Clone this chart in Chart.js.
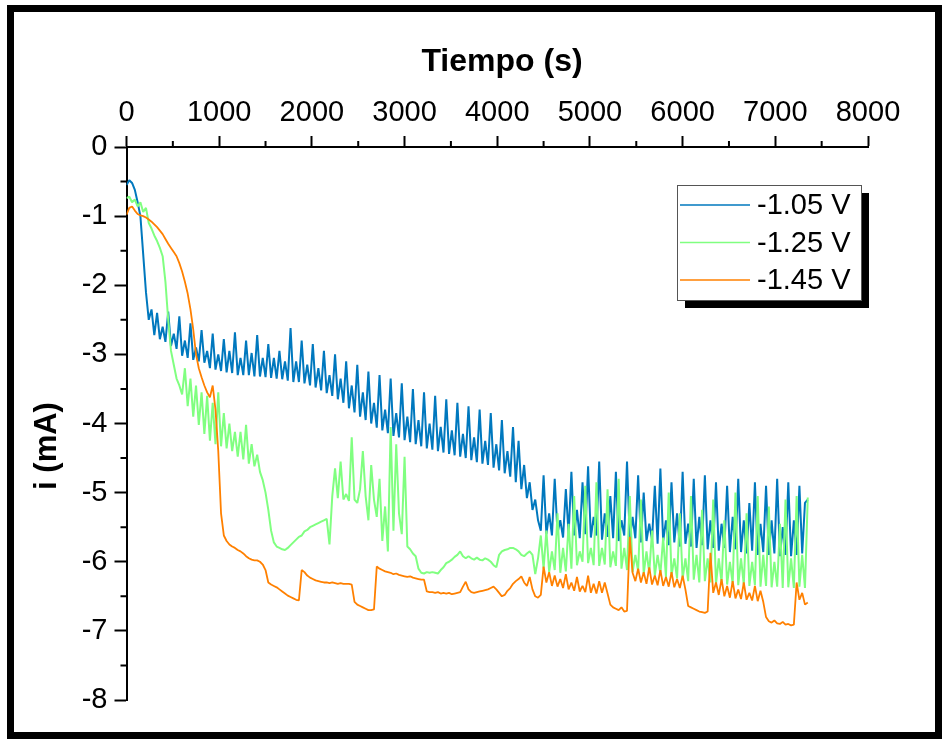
<!DOCTYPE html>
<html>
<head>
<meta charset="utf-8">
<script src="https://cdn.jsdelivr.net/npm/chart.js@4.4.1/dist/chart.umd.min.js"></script>
<style>
    html, body { margin: 0; padding: 0; background: #fff; }
    #wrap { position: relative; width: 942px; height: 739px; overflow: hidden; }
    #chart { display: block; }
    #frame { position: absolute; left: 7px; top: 5px; width: 935px; height: 734px; border: 7px solid #000; box-sizing: border-box; pointer-events: none; }
</style>
</head>
<body>
<div id="wrap">
    <canvas id="chart" width="942" height="739"></canvas>
    <div id="frame"></div>
</div>
<script>
// sampling interval of the curves (s)
const timeStep = 30;

const seriesLabels = ['-1.05 V', '-1.25 V', '-1.45 V'];
const seriesColors = ['#0078BE', '#80FF80', '#FF8000'];
const seriesWidths = [2, 2, 1.8];

const xTitle = 'Tiempo (s)';
const yTitle = 'i (mA)';

// i (mA) every 30 s
const current105 = [
    -0.55,-0.48,-0.52,-0.62,-0.80,-1.00,-1.55,-2.10,-2.50,-2.35,
    -2.72,-2.40,-2.78,-2.60,-2.82,-2.38,-2.88,-2.70,-2.92,-2.45,
    -3.02,-2.80,-3.05,-2.55,-3.08,-2.90,-3.10,-2.65,-3.12,-2.95,
    -3.20,-2.70,-3.22,-3.00,-3.24,-2.78,-3.26,-2.95,-3.27,-2.68,
    -3.30,-3.05,-3.30,-2.80,-3.30,-2.98,-3.32,-2.72,-3.32,-3.05,
    -3.33,-2.85,-3.34,-3.05,-3.35,-2.95,-3.36,-3.10,-3.38,-2.62,
    -3.40,-3.10,-3.40,-2.80,-3.42,-3.15,-3.45,-2.85,-3.48,-3.20,
    -3.52,-2.95,-3.56,-3.30,-3.60,-3.00,-3.65,-3.35,-3.70,-3.10,
    -3.78,-3.45,-3.84,-3.15,-3.90,-3.55,-3.95,-3.25,-4.00,-3.70,
    -4.06,-3.30,-4.10,-3.80,-4.14,-3.35,-4.18,-3.85,-4.20,-3.42,
    -4.24,-3.90,-4.27,-3.50,-4.30,-3.95,-4.33,-3.55,-4.36,-4.00,
    -4.38,-3.60,-4.40,-4.05,-4.42,-3.65,-4.44,-4.10,-4.46,-3.70,
    -4.48,-4.15,-4.50,-3.75,-4.53,-4.20,-4.56,-3.80,-4.58,-4.25,
    -4.60,-3.85,-4.64,-4.30,-4.68,-3.95,-4.72,-4.40,-4.77,-4.05,
    -4.85,-4.25,-4.95,-4.60,-5.08,-4.85,-5.25,-5.10,-5.40,-5.55,
    -4.75,-5.60,-5.30,-5.62,-4.80,-5.58,-5.40,-5.65,-4.95,-5.60,
    -4.70,-5.62,-5.25,-5.66,-4.85,-5.60,-4.62,-5.65,-5.35,-5.62,
    -4.55,-5.68,-5.30,-5.64,-5.05,-5.66,-4.70,-5.70,-5.40,-5.62,
    -4.55,-5.68,-5.35,-5.66,-4.75,-5.72,-5.00,-5.70,-5.45,-5.68,
    -4.90,-5.74,-4.65,-5.70,-5.40,-5.76,-4.85,-5.72,-5.30,-5.78,
    -4.70,-5.74,-5.45,-5.78,-4.80,-5.80,-5.35,-5.76,-4.75,-5.82,
    -5.40,-5.80,-4.85,-5.84,-5.45,-5.80,-4.90,-5.86,-5.35,-5.82,
    -4.80,-5.86,-5.40,-5.88,-5.15,-5.84,-4.85,-5.90,-5.45,-5.86,
    -4.90,-5.90,-5.40,-5.88,-4.80,-5.92,-5.50,-5.90,-4.85,-5.92,
    -5.40,-5.90,-4.90,-5.88,-5.15,-5.10
];

const current125 = [
    -0.74,-0.72,-0.80,-0.76,-0.86,-0.80,-0.94,-0.88,-1.10,-1.18,
    -1.28,-1.36,-1.46,-1.58,-1.95,-2.50,-2.95,-3.15,-3.35,-3.45,
    -3.58,-3.20,-3.75,-3.35,-3.90,-3.45,-4.02,-3.55,-4.15,-3.60,
    -4.25,-3.70,-4.30,-3.55,-4.33,-3.85,-4.36,-4.00,-4.40,-4.12,
    -4.48,-4.12,-4.52,-4.02,-4.58,-4.30,-4.62,-4.45,-4.70,-4.82,
    -5.00,-5.25,-5.55,-5.72,-5.78,-5.80,-5.82,-5.83,-5.80,-5.76,
    -5.72,-5.68,-5.64,-5.62,-5.56,-5.54,-5.50,-5.48,-5.46,-5.44,
    -5.42,-5.40,-5.38,-5.75,-5.05,-4.65,-5.08,-4.55,-5.10,-5.02,
    -5.12,-4.20,-5.10,-5.15,-4.95,-4.40,-5.05,-5.40,-4.60,-5.10,
    -5.35,-4.80,-5.70,-5.20,-5.85,-4.05,-5.55,-4.30,-5.30,-5.60,
    -4.48,-5.78,-5.82,-5.88,-5.92,-6.10,-6.16,-6.17,-6.15,-6.16,
    -6.15,-6.16,-6.17,-6.12,-6.08,-6.02,-6.00,-5.97,-5.93,-5.90,
    -5.85,-5.92,-5.95,-5.92,-5.95,-5.97,-5.94,-5.97,-5.98,-5.95,
    -5.97,-6.00,-6.05,-6.08,-5.90,-5.85,-5.83,-5.82,-5.80,-5.80,
    -5.82,-5.85,-5.90,-5.92,-5.88,-5.85,-5.90,-6.18,-5.95,-5.62,
    -6.10,-5.55,-6.15,-5.85,-6.12,-5.30,-6.16,-5.80,-6.14,-5.45,
    -6.10,-5.05,-6.05,-5.85,-6.00,-4.90,-6.02,-5.80,-6.05,-4.85,
    -6.06,-5.80,-6.04,-4.95,-6.08,-5.85,-6.06,-4.80,-6.10,-5.80,
    -6.12,-5.05,-6.15,-5.90,-6.14,-5.10,-6.18,-5.85,-6.16,-5.55,
    -6.20,-5.90,-6.18,-5.65,-6.22,-5.00,-6.20,-5.95,-6.24,-5.30,
    -6.25,-5.95,-6.28,-5.05,-6.26,-5.90,-6.30,-5.25,-6.28,-5.95,
    -6.30,-5.10,-6.32,-5.95,-6.30,-5.40,-6.33,-6.00,-6.32,-5.00,
    -6.34,-5.95,-6.33,-5.30,-6.35,-6.00,-6.34,-5.05,-6.36,-5.90,
    -6.35,-5.20,-6.37,-6.00,-6.36,-5.45,-6.38,-5.10,-6.37,-5.95,
    -6.38,-5.05,-6.36,-5.90,-6.38,-5.07
];

const current145 = [
    -0.98,-0.88,-0.86,-0.92,-0.97,-0.99,-1.00,-1.02,-1.05,-1.08,
    -1.12,-1.16,-1.21,-1.26,-1.33,-1.40,-1.46,-1.52,-1.58,-1.68,
    -1.80,-1.95,-2.12,-2.35,-2.64,-3.00,-3.20,-3.33,-3.45,-3.55,
    -3.62,-3.45,-3.80,-4.40,-5.30,-5.62,-5.70,-5.75,-5.78,-5.80,
    -5.83,-5.85,-5.88,-5.92,-5.95,-5.97,-5.98,-5.98,-6.00,-6.04,
    -6.12,-6.30,-6.33,-6.35,-6.37,-6.40,-6.43,-6.46,-6.49,-6.51,
    -6.53,-6.55,-6.56,-6.12,-6.15,-6.20,-6.23,-6.25,-6.27,-6.28,
    -6.29,-6.30,-6.30,-6.31,-6.30,-6.31,-6.32,-6.31,-6.32,-6.32,
    -6.32,-6.33,-6.58,-6.62,-6.64,-6.66,-6.68,-6.70,-6.70,-6.69,
    -6.07,-6.10,-6.12,-6.14,-6.15,-6.16,-6.18,-6.17,-6.19,-6.20,
    -6.21,-6.22,-6.21,-6.23,-6.24,-6.25,-6.26,-6.26,-6.43,-6.44,
    -6.44,-6.45,-6.44,-6.46,-6.45,-6.46,-6.45,-6.47,-6.46,-6.45,
    -6.44,-6.36,-6.29,-6.40,-6.44,-6.45,-6.44,-6.43,-6.42,-6.41,
    -6.40,-6.38,-6.36,-6.40,-6.45,-6.50,-6.48,-6.42,-6.38,-6.32,
    -6.28,-6.25,-6.21,-6.30,-6.35,-6.22,-6.40,-6.50,-6.52,-6.48,
    -6.07,-6.30,-6.15,-6.35,-6.20,-6.36,-6.25,-6.38,-6.18,-6.40,
    -6.30,-6.42,-6.22,-6.43,-6.35,-6.44,-6.20,-6.45,-6.32,-6.46,
    -6.28,-6.45,-6.30,-6.46,-6.62,-6.66,-6.68,-6.70,-6.66,-6.72,
    -6.71,-5.64,-6.16,-6.28,-6.10,-6.30,-6.15,-6.32,-6.08,-6.33,
    -6.20,-6.34,-6.12,-6.35,-6.22,-6.36,-6.15,-6.37,-6.25,-6.38,
    -6.20,-6.40,-6.64,-6.66,-6.68,-6.70,-6.72,-6.73,-6.74,-6.72,
    -5.87,-6.45,-6.30,-6.48,-6.25,-6.50,-6.35,-6.52,-6.28,-6.53,
    -6.40,-6.54,-6.30,-6.55,-6.45,-6.56,-6.35,-6.57,-6.42,-6.58,
    -6.80,-6.86,-6.88,-6.85,-6.89,-6.90,-6.87,-6.91,-6.90,-6.92,
    -6.91,-6.30,-6.55,-6.45,-6.62,-6.59
];

const seriesValues = [current105, current125, current145];
const fontFamily = '"Liberation Sans", Arial, sans-serif';

function toPoints(values) {
    return values.map((v, i) => ({ x: i * timeStep, y: v }));
}

// short ticks between the labelled ones
const minorTicks = {
    id: 'minorTicks',
    afterDraw(chart) {
        const ctx = chart.ctx, xs = chart.scales.x, ys = chart.scales.y;
        ctx.save();
        ctx.strokeStyle = '#000';
        ctx.lineWidth = 2;
        ctx.beginPath();
        for (let v = 500; v < 8000; v += 1000) {
            const px = xs.getPixelForValue(v);
            ctx.moveTo(px, xs.bottom);
            ctx.lineTo(px, xs.bottom - 6);
        }
        for (let v = -0.5; v > -8; v -= 1) {
            const py = ys.getPixelForValue(v);
            ctx.moveTo(ys.right, py);
            ctx.lineTo(ys.right - 6, py);
        }
        ctx.stroke();
        ctx.restore();
    }
};

const axisTitles = {
    id: 'axisTitles',
    afterDraw(chart) {
        const ctx = chart.ctx;
        ctx.save();
        ctx.fillStyle = '#000';
        ctx.font = 'bold 32px ' + fontFamily;
        ctx.textAlign = 'center';
        ctx.textBaseline = 'alphabetic';
        ctx.fillText(xTitle, 502, 71);
        ctx.translate(56, 446);
        ctx.rotate(-Math.PI / 2);
        ctx.font = 'bold 31px ' + fontFamily;
        ctx.fillText(yTitle, 0, 0);
        ctx.restore();
    }
};

const legendBox = {
    id: 'legendBox',
    afterDraw(chart) {
        const ctx = chart.ctx;
        const bx = 677, by = 185, bw = 184, bh = 115;
        ctx.save();
        ctx.fillStyle = '#000';
        ctx.fillRect(bx + 8, by + 8, bw, bh);
        ctx.fillStyle = '#fff';
        ctx.fillRect(bx, by, bw, bh);
        ctx.strokeStyle = '#555';
        ctx.lineWidth = 1;
        ctx.strokeRect(bx + 0.5, by + 0.5, bw, bh);
        ctx.font = '29px ' + fontFamily;
        ctx.textBaseline = 'middle';
        ctx.textAlign = 'left';
        seriesLabels.forEach((label, i) => {
            const y = 205 + i * 37.5;
            ctx.strokeStyle = seriesColors[i];
            ctx.lineWidth = 1.5;
            ctx.beginPath();
            ctx.moveTo(680, y);
            ctx.lineTo(750, y);
            ctx.stroke();
            ctx.fillStyle = '#000';
            ctx.fillText(label, 757, y + 1);
        });
        ctx.restore();
    }
};

document.addEventListener('DOMContentLoaded', function() {
    const canvas = document.getElementById('chart');

    new Chart(canvas.getContext('2d'), {
        type: 'line',
        data: {
            datasets: seriesLabels.map((label, i) => ({
                label: label,
                data: toPoints(seriesValues[i]),
                borderColor: seriesColors[i],
                backgroundColor: seriesColors[i],
                borderWidth: seriesWidths[i],
                borderJoinStyle: 'bevel',
                pointRadius: 0,
                tension: 0,
                fill: false,
                order: 3 - i
            }))
        },
        options: {
            responsive: false,
            animation: false,
            devicePixelRatio: 1,
            layout: { padding: { left: 0, top: 0, right: 74, bottom: 39 } },
            plugins: { legend: { display: false }, tooltip: { enabled: false } },
            scales: {
                x: {
                    type: 'linear',
                    position: 'top',
                    min: 0,
                    max: 8000,
                    ticks: { stepSize: 1000, autoSkip: false, maxRotation: 0, color: '#000', padding: 6,
                             font: { family: fontFamily, size: 29 }, callback: v => String(v) },
                    grid: { drawOnChartArea: false, drawTicks: true, tickLength: 11, tickWidth: 2, tickColor: '#000' },
                    border: { display: true, color: '#000', width: 2 },
                    afterFit: s => { s.height = 147; }
                },
                y: {
                    type: 'linear',
                    min: -8,
                    max: 0,
                    ticks: { stepSize: 1, autoSkip: false, color: '#000', padding: 7,
                             font: { family: fontFamily, size: 29 }, callback: v => String(v) },
                    grid: { drawOnChartArea: false, drawTicks: true, tickLength: 12, tickWidth: 2, tickColor: '#000' },
                    border: { display: true, color: '#000', width: 2 },
                    afterFit: s => { s.width = 126.5; }
                }
            }
        },
        plugins: [minorTicks, axisTitles, legendBox]
    });
});
</script>
</body>
</html>
